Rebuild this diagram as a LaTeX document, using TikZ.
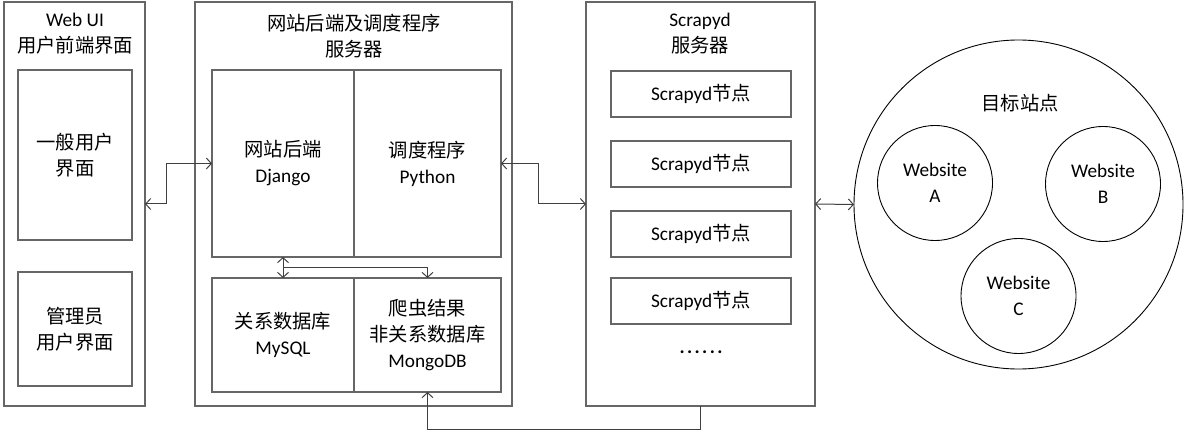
\documentclass[tikz,border=0pt]{standalone}
\usepackage{fontspec}
\setmainfont{Carlito}
\newfontfamily\zh{Noto Sans CJK SC}
\usetikzlibrary{arrows.meta,calc}
\begin{document}
\begin{tikzpicture}[x=1pt,y=-1pt,
  box/.style={draw=black!60, line width=1.5pt, rectangle, inner sep=0pt, outer sep=0pt},
  ring/.style={draw=black, line width=0.9pt, circle, inner sep=0pt, outer sep=0pt},
  lbl/.style={align=center, inner sep=0pt, font=\fontsize{19.3}{26}\selectfont},
  conn/.style={draw=black!75, line width=1pt, arrows={Straight Barb[length=5pt,width=11pt]-Straight Barb[length=5pt,width=11pt]}},
  conn1/.style={draw=black!75, line width=1pt, arrows={-Straight Barb[length=5pt,width=11pt]}},
  ]
\useasboundingbox (0,0) rectangle (1188,430);
% Web UI column
\node[box, minimum width=141pt, minimum height=404pt] (webui) at (74.5,204) {};
\node[lbl] (webuit) at (75,34) {Web UI\\{\zh 用户前端界面}};
\node[box, minimum width=114pt, minimum height=170pt] (normal) at (75,155) {};
\node[lbl] (normalt) at (normal.center) {{\zh 一般用户}\\{\zh 界面}};
\node[box, minimum width=114pt, minimum height=114pt] (admin) at (75,329) {};
\node[lbl] (admint) at (admin.center) {{\zh 管理员}\\{\zh 用户界面}};
% Backend column
\node[box, minimum width=317pt, minimum height=404pt] (backend) at (353.5,204) {};
\node[lbl] (backendt) at (354,36) {{\zh 网站后端及调度程序}\\{\zh 服务器}};
\node[box, minimum width=142pt, minimum height=187pt] (django) at (283,163.5) {};
\node[box, minimum width=147pt, minimum height=187pt] (python) at (427.5,163.5) {};
\node[lbl] (djangot) at (django.center) {{\zh 网站后端}\\Django};
\node[lbl] (pythont) at (python.center) {{\zh 调度程序}\\Python};
\node[box, minimum width=142pt, minimum height=114pt] (mysql) at (283,335) {};
\node[box, minimum width=147pt, minimum height=114pt] (mongo) at (427.5,335) {};
\node[lbl] (mysqlt) at (mysql.center) {{\zh 关系数据库}\\MySQL};
\node[lbl] (mongot) at (mongo.center) {{\zh 爬虫结果}\\{\zh 非关系数据库}\\MongoDB};
% Scrapyd column
\node[box, minimum width=229pt, minimum height=404pt] (scrapyd) at (700.5,204) {};
\node[lbl] (scrapydt) at (700,34) {Scrapyd\\{\zh 服务器}};
\node[box, lbl, minimum width=180pt, minimum height=46pt] (n1) at (701,94) {Scrapyd{\zh 节点}};
\node[box, lbl, minimum width=180pt, minimum height=46pt] (n2) at (701,164) {Scrapyd{\zh 节点}};
\node[box, lbl, minimum width=180pt, minimum height=46pt] (n3) at (701,234) {Scrapyd{\zh 节点}};
\node[box, lbl, minimum width=180pt, minimum height=46pt] (n4) at (701,301) {Scrapyd{\zh 节点}};
\node[lbl] (dots) at (701,352) {\bfseries .\hspace{2.4pt}.\hspace{2.4pt}.\hspace{2.4pt}.\hspace{2.4pt}.\hspace{2.4pt}.};
% Target sites
\node[ring, minimum size=329pt] (target) at (1018.5,204.5) {};
\node[lbl] (targett) at (1020,103) {{\zh 目标站点}};
\node[ring, minimum size=115pt] (wa) at (935,183) {};
\node[ring, minimum size=115pt] (wb) at (1103,184) {};
\node[ring, minimum size=115pt] (wc) at (1018.5,296) {};
\node[lbl] (wat) at (wa.center) {Website\\A};
\node[lbl] (wbt) at (wb.center) {Website\\B};
\node[lbl] (wct) at (wc.center) {Website\\C};
% connectors
\draw[conn] (webui.east) -- ++(21,0) |- (django.west);
\draw[conn] (python.east) -- ++(37,0) |- (scrapyd.west);
\draw[conn] (django.south) -- (mysql.north);
\coordinate (mid) at ($(django.south)!0.5!(mysql.north)$);
\draw[conn1] (mid) -| (mongo.north);
\draw[conn] (scrapyd.east) -- (target.west);
\draw[conn1] (scrapyd.south) -- ++(0,23) -| (mongo.south);
\end{tikzpicture}
\end{document}
